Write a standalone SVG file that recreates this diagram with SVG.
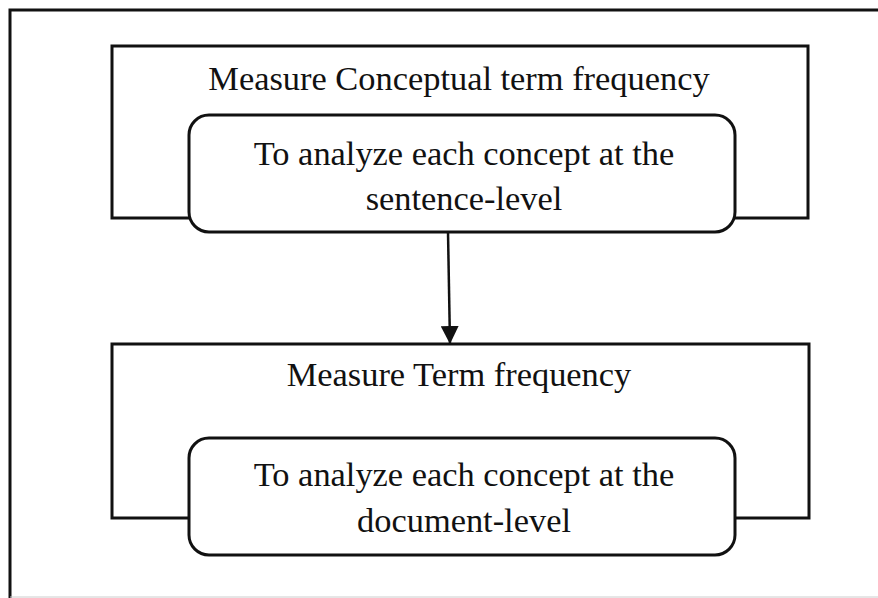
<svg xmlns="http://www.w3.org/2000/svg" width="878" height="598" viewBox="0 0 878 598">
<style>
.frame{fill:none;stroke:#111;stroke-width:3}
.box{fill:#fff;stroke:#111;stroke-width:3}
.t{font-family:"Liberation Serif","Times New Roman",serif;font-size:34.4px;fill:#111;text-anchor:middle}
.conn{stroke:#111;stroke-width:2.5;fill:none}
</style>
<defs>
<marker id="arr" markerWidth="18" markerHeight="18" refX="18" refY="9" orient="auto" markerUnits="userSpaceOnUse">
<path d="M0,0 L18,9 L0,18 Z" fill="#111"/>
</marker>
</defs>
<rect width="878" height="598" fill="#fff"/>
<path d="M10,598 L10,10 L878,10" class="frame"/>
<line x1="10" y1="597" x2="878" y2="597" stroke="#ccc" stroke-width="1"/>
<g id="node1">
<rect x="112" y="46" width="696" height="172" class="box"/>
<text x="459" y="90" class="t">Measure Conceptual term frequency</text>
</g>
<g id="node2">
<rect x="189" y="115" width="546" height="117" rx="20" ry="20" class="box"/>
<text x="464" y="165" class="t">To analyze each concept at the</text>
<text x="464" y="210" class="t">sentence-level</text>
</g>
<g id="node3">
<rect x="112" y="344" width="697" height="174" class="box"/>
<text x="459" y="386" class="t">Measure Term frequency</text>
</g>
<g id="node4">
<rect x="189" y="438" width="546" height="117" rx="20" ry="20" class="box"/>
<text x="464" y="486" class="t">To analyze each concept at the</text>
<text x="464" y="532" class="t">document-level</text>
</g>
<g id="connectors">
<line x1="448" y1="232" x2="450" y2="344" class="conn" marker-end="url(#arr)"/>
</g>
</svg>
